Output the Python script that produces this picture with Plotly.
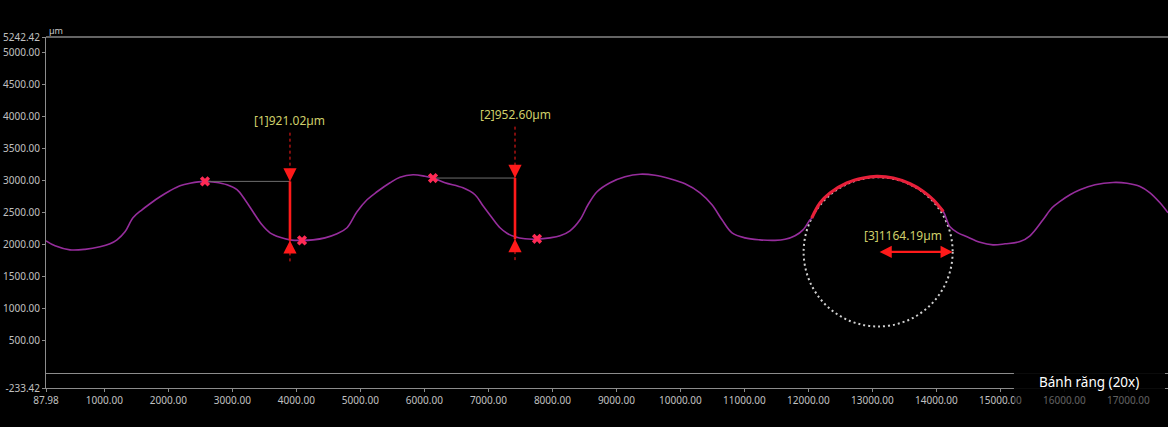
import plotly.graph_objects as go

# ---------------- data (µm) ----------------
profile_x = [88, 229, 463, 697, 932, 1088, 1197, 1322, 1447, 1588, 1713, 1869, 2025, 2182, 2338,
             2572, 2728, 2916, 3072, 3197, 3322, 3463, 3588, 3744, 3900, 4088, 4260, 4447, 4635,
             4791, 4947, 5104, 5260, 5463, 5619, 5822, 6010, 6135, 6322, 6604, 6791, 6916, 7057,
             7182, 7291, 7416, 7572, 7760, 7963, 8119, 8275, 8432, 8557, 8698, 8901, 9135, 9369,
             9604, 9838, 10072, 10307, 10494, 10650, 10807, 11010, 11244, 11478, 11635, 11791,
             11916, 12026, 12052, 12182, 12338, 12599, 12858, 13067, 13327, 13588, 13796, 13952,
             14108, 14213, 14338, 14479, 14682, 14885, 15073, 15307, 15463, 15666, 15807, 15932,
             16088, 16244, 16479, 16760, 16979, 17182, 17338, 17494, 17619]
profile_y = [2062, 1984, 1922, 1930, 1969, 2016, 2078, 2203, 2422, 2547, 2641, 2750, 2844, 2922, 2961,
             2990, 2977, 2937, 2860, 2703, 2516, 2312, 2187, 2117, 2078, 2070, 2078, 2109, 2172,
             2266, 2516, 2703, 2828, 2969, 3055, 3094, 3070, 3042, 2969, 2890, 2781, 2609, 2422,
             2266, 2180, 2125, 2094, 2089, 2109, 2141, 2219, 2391, 2625, 2828, 2969, 3062, 3102,
             3086, 3031, 2953, 2812, 2625, 2391, 2187, 2109, 2078, 2070, 2086, 2141,
             2234, 2391, 2417, 2652, 2808, 2964, 3042, 3067, 3042, 2953, 2833, 2703,
             2520, 2281, 2187, 2125, 2039, 2000, 2016, 2051, 2141, 2391, 2578, 2677,
             2781, 2859, 2937, 2973, 2961, 2911, 2812, 2656, 2500]

# fitted arc section (highlighted red)
arc_x = [12052, 12182, 12338, 12599, 12858, 13067, 13327, 13588, 13796, 13952, 14108]
arc_y = [2417, 2652, 2808, 2964, 3042, 3067, 3042, 2953, 2833, 2703, 2520]

# step-height measurements
meas_labels = ["[1]921.02µm", "[2]952.60µm"]
meas_x = [3900, 7416]
meas_top = [2990, 3042]
meas_bottom = [2068.98, 2089.40]
meas_label_y = [3937, 4031]
guide_top = [3750, 3844]
guide_bottom = [1734, 1734]
peak_x = [2572, 6135]
valley_x = [4088, 7760]
valley_y = [2070, 2094]

# circle fit
circle_label = "[3]1164.19µm"
circle_cx = 13090
circle_cy = 1890
circle_r = 1164.19
circle_label_pos = (13478, 2140)

x_tickvals = [87.98, 1000, 2000, 3000, 4000, 5000, 6000, 7000, 8000, 9000, 10000,
              11000, 12000, 13000, 14000, 15000, 16000, 17000, 18000]
y_tickvals = [-233.42, 500, 1000, 1500, 2000, 2500, 3000, 3500, 4000, 4500, 5000, 5242.42]
x_range = [87.98, 17619]
y_range = [-233.42, 5242.42]

RED = "#ff1a1a"
LABEL = "#cfcf6a"
AXIS = "#8c8c8c"
FONT = "Noto Sans"

fig = go.Figure()

fig.add_trace(go.Scatter(x=profile_x, y=profile_y, mode="lines", line_shape="spline",
                         line=dict(color="#962d9c", width=1.6), hoverinfo="skip"))
fig.add_trace(go.Scatter(x=arc_x, y=arc_y, mode="lines", line_shape="spline",
                         line=dict(color="#e8203a", width=3.2), hoverinfo="skip"))

annotations = []
for i in range(len(meas_x)):
    mx = meas_x[i]
    fig.add_trace(go.Scatter(x=[peak_x[i], mx], y=[meas_top[i], meas_top[i]], mode="lines",
                             line=dict(color="#6e6e6e", width=1), hoverinfo="skip"))
    fig.add_trace(go.Scatter(x=[mx, mx], y=[guide_top[i], meas_top[i]], mode="lines",
                             line=dict(color=RED, width=1, dash="dot"), hoverinfo="skip"))
    fig.add_trace(go.Scatter(x=[mx, mx], y=[meas_bottom[i], guide_bottom[i]], mode="lines",
                             line=dict(color=RED, width=1, dash="dot"), hoverinfo="skip"))
    fig.add_trace(go.Scatter(x=[mx, mx], y=[meas_top[i], meas_bottom[i]], mode="lines",
                             line=dict(color=RED, width=2.6), hoverinfo="skip"))
    fig.add_trace(go.Scatter(x=[peak_x[i], valley_x[i]], y=[meas_top[i], valley_y[i]],
                             mode="markers",
                             marker=dict(symbol="x", size=9, color="#ff2a55", line=dict(width=0)),
                             hoverinfo="skip"))
    annotations.append(dict(x=mx, y=meas_top[i], xref="x", yref="y", ax=0, ay=-13, text="",
                            showarrow=True, arrowhead=2, arrowsize=1.2, arrowwidth=2.2,
                            arrowcolor=RED, standoff=0))
    annotations.append(dict(x=mx, y=meas_bottom[i], xref="x", yref="y", ax=0, ay=13, text="",
                            showarrow=True, arrowhead=2, arrowsize=1.2, arrowwidth=2.2,
                            arrowcolor=RED, standoff=0))
    annotations.append(dict(x=mx, y=meas_label_y[i], xref="x", yref="y", text=meas_labels[i],
                            showarrow=False, xanchor="center", yanchor="middle",
                            font=dict(family=FONT, size=12, color=LABEL)))

annotations.append(dict(x=circle_cx + circle_r, y=circle_cy, ax=circle_cx, ay=circle_cy,
                        xref="x", yref="y", axref="x", ayref="y", text="", showarrow=True,
                        arrowside="end+start", arrowhead=2, startarrowhead=2, arrowsize=1.1,
                        startarrowsize=1.1, arrowwidth=2.2, arrowcolor=RED,
                        standoff=0, startstandoff=0))
annotations.append(dict(x=circle_label_pos[0], y=circle_label_pos[1], xref="x", yref="y",
                        text=circle_label, showarrow=False, xanchor="center", yanchor="middle",
                        font=dict(family=FONT, size=12, color=LABEL)))
annotations.append(dict(x=0, y=1, xref="paper", yref="paper", xanchor="left", yanchor="bottom",
                        xshift=1, yshift=-2, text="µm", showarrow=False,
                        font=dict(family=FONT, size=9, color="#c8c8c8")))
annotations.append(dict(x=0.9296, y=0.0171, xref="paper", yref="paper", text="Bánh răng (20x)",
                        xanchor="center", yanchor="middle", showarrow=False,
                        font=dict(family=FONT, size=13.5, color="#ffffff")))

shapes = [
    dict(type="circle", xref="x", yref="y", x0=circle_cx - circle_r, x1=circle_cx + circle_r,
         y0=circle_cy - circle_r, y1=circle_cy + circle_r, layer="below",
         line=dict(color="#d0d0d0", width=2, dash="2px,3px")),
    dict(type="line", xref="paper", yref="paper", x0=0, x1=1, y0=1, y1=1,
         line=dict(color="#c8c8c8", width=1), layer="above"),
    dict(type="rect", xref="paper", yref="paper", x0=0.8627, x1=0.9973, y0=-0.017, y1=0.0655,
         fillcolor="rgba(0,0,0,0.92)", line=dict(width=0), layer="above"),
    dict(type="rect", xref="paper", yref="paper", x0=0.8627, x1=0.9973, y0=-0.08, y1=-0.017,
         fillcolor="rgba(0,0,0,0.5)", line=dict(width=0), layer="above"),
]

fig.update_layout(
    width=1168, height=427,
    margin=dict(l=46, r=0, t=37, b=39),
    paper_bgcolor="#000000", plot_bgcolor="#000000",
    showlegend=False,
    font=dict(family=FONT, size=10, color="#c0c0c0"),
    annotations=annotations,
    shapes=shapes,
    xaxis=dict(range=x_range, tickvals=x_tickvals, ticktext=[f"{v:.2f}" for v in x_tickvals],
               showgrid=False, zeroline=False, showline=True, linecolor=AXIS, linewidth=1,
               ticks="outside", ticklen=3, tickcolor=AXIS,
               tickfont=dict(family=FONT, size=10, color="#c0c0c0")),
    yaxis=dict(range=y_range, tickvals=y_tickvals, ticktext=[f"{v:.2f}" for v in y_tickvals],
               showgrid=False, zeroline=True, zerolinecolor=AXIS, zerolinewidth=1,
               showline=True, linecolor=AXIS, linewidth=1,
               ticks="outside", ticklen=3, tickcolor=AXIS,
               tickfont=dict(family=FONT, size=10, color="#c0c0c0")),
)

fig.write_html("out.html", config={"displayModeBar": False},
               post_script="document.body.style.margin='0';document.body.style.background='#000';")
